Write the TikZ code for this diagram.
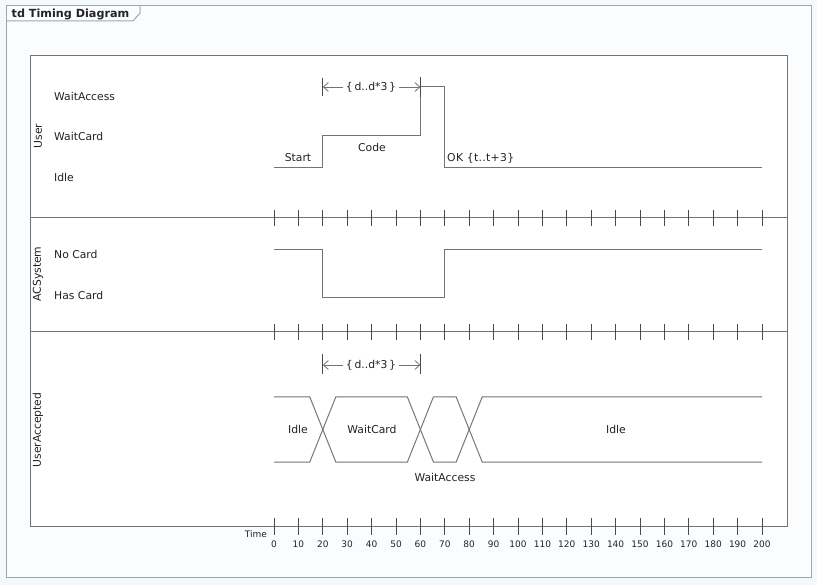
\documentclass[tikz,border=0pt]{standalone}
\usepackage{fontspec}
\setmainfont{DejaVu Sans}
\usetikzlibrary{arrows.meta}
\definecolor{bgc}{RGB}{244,249,252}
\definecolor{inc}{RGB}{250,252,253}
\definecolor{framec}{RGB}{165,165,165}
\definecolor{linec}{RGB}{115,115,115}
\definecolor{tickc}{RGB}{75,75,75}
\definecolor{txtc}{RGB}{35,35,35}
\tikzset{
  wave/.style={draw=linec, line width=1pt},
  frameline/.style={draw=framec, line width=1pt},
  laneline/.style={draw=linec, line width=1pt},
  tickline/.style={draw=tickc, line width=0.8pt},
  lbl/.style={font=\fontsize{10.8}{13}\selectfont, text=txtc, inner sep=0pt},
  small/.style={font=\fontsize{9}{11}\selectfont, text=txtc, inner sep=0pt},
  lanelbl/.style={lbl, rotate=90},
  cons/.style={draw=linec, line width=0.8pt, -{Straight Barb[length=5pt,width=9pt]}},
}
\begin{document}
\begin{tikzpicture}[x=1pt,y=-1pt]
\useasboundingbox (0,0) rectangle (817,585);
\fill[bgc] (0,0) rectangle (817,585);
% outer frame
\path[frameline, fill=inc] (6,6) rectangle (811,577);
\draw[frameline] (6,21) -- (133,21) -- (140,13) -- (140,6);
\node[lbl, anchor=west, font=\fontsize{11.2}{13}\selectfont\bfseries] (title) at (11.5,14) {td Timing Diagram};
% inner frame
\path[laneline, fill=white] (30,56) rectangle (787,526);
\draw[laneline] (30,218) -- (787,218);
\draw[laneline] (30,332) -- (787,332);
% ticks
\foreach \t in {0,10,...,200}{
  \draw[tickline] ({274+2.44*\t},210) -- ({274+2.44*\t},226);
  \draw[tickline] ({274+2.44*\t},324) -- ({274+2.44*\t},340);
  \draw[tickline] ({274+2.44*\t},518) -- ({274+2.44*\t},535);
  \node[small] (tl\t) at ({274+2.44*\t},544) {\t};
}
\node[small, anchor=east] (time) at (267,534) {Time};
% lane labels
\node[lanelbl] (luser) at (38,136) {User};
\node[lanelbl] (lac) at (38,274) {ACSystem};
\node[lanelbl] (lua) at (38,430) {UserAccepted};
% state labels
\node[lbl, anchor=west] (sWA) at (54,96) {WaitAccess};
\node[lbl, anchor=west] (sWC) at (54,136) {WaitCard};
\node[lbl, anchor=west] (sId) at (54,177) {Idle};
\node[lbl, anchor=west] (sNC) at (54,254) {No Card};
\node[lbl, anchor=west] (sHC) at (54,295) {Has Card};
% User waveform
\coordinate (u0) at (274,168);
\coordinate (u1) at ({274+2.44*20},168);
\coordinate (u2) at ({274+2.44*20},136);
\coordinate (u3) at ({274+2.44*60},136);
\coordinate (u4) at ({274+2.44*60},87);
\coordinate (u5) at ({274+2.44*70},87);
\coordinate (u6) at ({274+2.44*70},168);
\coordinate (u7) at (762,168);
\draw[wave] (u0) -- (u1) -- (u2) -- (u3) -- (u4) -- (u5) -- (u6) -- (u7);
\node[lbl] (start) at (298,158) {Start};
\node[lbl] (code) at (372,147) {Code};
\node[lbl, anchor=west] (ok) at (447,158) {\addfontfeatures{LetterSpace=3}OK \{t..t+3\}};
% top constraint
\coordinate (c1a) at ({274+2.44*20},78);
\coordinate (c1b) at ({274+2.44*20},96);
\coordinate (c1l) at ({274+2.44*20},87);
\coordinate (c1c) at ({274+2.44*60},77);
\coordinate (c1d) at ({274+2.44*60},97);
\coordinate (c1r) at ({274+2.44*60},87);
\draw[tickline] (c1a) -- (c1b);
\draw[tickline] (c1c) -- (c1d);
\node[lbl] (k1) at (371,87) {\{\,d..d*3\,\}};
\draw[cons] (k1.west) ++(-3,0) -- (c1l);
\draw[cons] (k1.east) ++(3,0) -- (c1r);
% ACSystem waveform
\coordinate (a0) at (274,250);
\coordinate (a1) at ({274+2.44*20},250);
\coordinate (a2) at ({274+2.44*20},298);
\coordinate (a3) at ({274+2.44*70},298);
\coordinate (a4) at ({274+2.44*70},250);
\coordinate (a5) at (762,250);
\draw[wave] (a0) -- (a1) -- (a2) -- (a3) -- (a4) -- (a5);
% UserAccepted waveform
\def\ytop{397}\def\ybot{462}\def\hw{13}
\draw[wave] (274,\ytop) -- ({274+2.44*20-\hw},\ytop) -- ({274+2.44*20+\hw},\ybot) -- ({274+2.44*60-\hw},\ybot) -- ({274+2.44*60+\hw},\ytop) -- ({274+2.44*80-\hw},\ytop) -- ({274+2.44*80+\hw},\ybot) -- (762,\ybot);
\draw[wave] (274,\ybot) -- ({274+2.44*20-\hw},\ybot) -- ({274+2.44*20+\hw},\ytop) -- ({274+2.44*60-\hw},\ytop) -- ({274+2.44*60+\hw},\ybot) -- ({274+2.44*80-\hw},\ybot) -- ({274+2.44*80+\hw},\ytop) -- (762,\ytop);
\node[lbl] (uaI) at (298,429) {Idle};
\node[lbl] (uaWC) at (372,429) {WaitCard};
\node[lbl] (uaWA) at (445,477) {WaitAccess};
\node[lbl] (uaI2) at (616,429) {Idle};
% bottom constraint
\coordinate (c2a) at ({274+2.44*20},354);
\coordinate (c2b) at ({274+2.44*20},374);
\coordinate (c2l) at ({274+2.44*20},365);
\coordinate (c2c) at ({274+2.44*60},354);
\coordinate (c2d) at ({274+2.44*60},374);
\coordinate (c2r) at ({274+2.44*60},365);
\draw[tickline] (c2a) -- (c2b);
\draw[tickline] (c2c) -- (c2d);
\node[lbl] (k2) at (371,365) {\{\,d..d*3\,\}};
\draw[cons] (k2.west) ++(-3,0) -- (c2l);
\draw[cons] (k2.east) ++(3,0) -- (c2r);
\end{tikzpicture}
\end{document}
